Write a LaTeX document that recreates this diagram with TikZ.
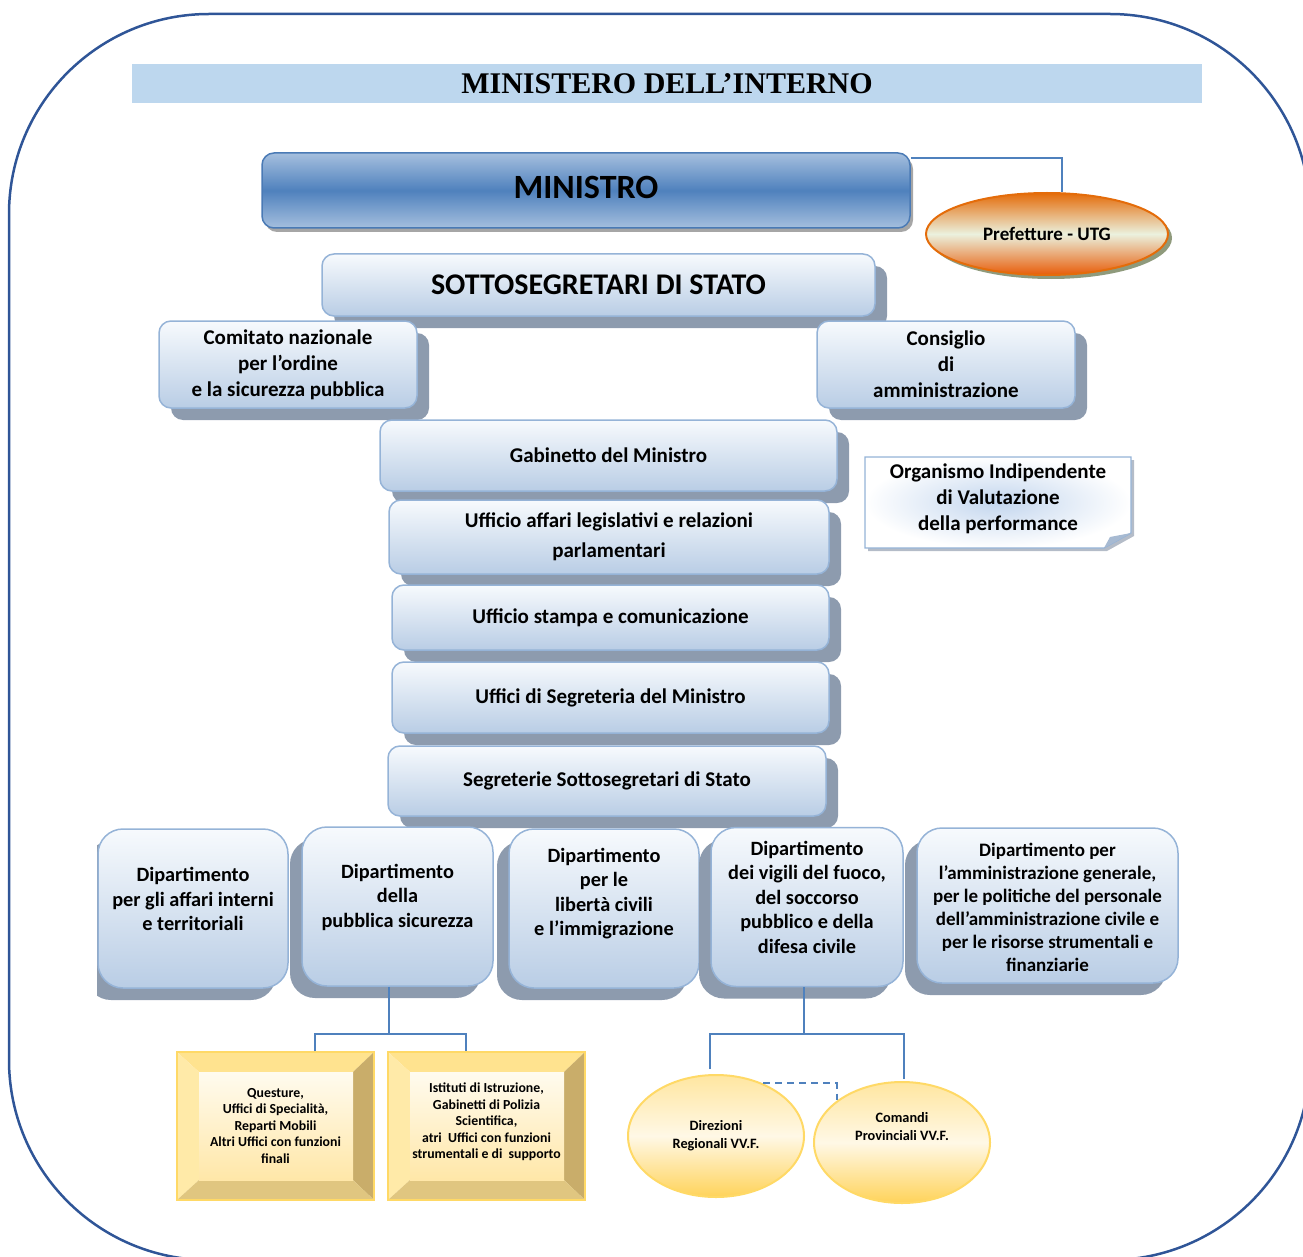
\documentclass[tikz,border=0pt]{standalone}
\usepackage{fontspec}
\setmainfont{Carlito}
\newfontfamily\timesf{Liberation Serif}
\usetikzlibrary{shadows,calc,shapes.geometric,backgrounds}
\definecolor{frameblue}{HTML}{2F5597}
\definecolor{bandblue}{HTML}{BDD7EE}
\definecolor{lineblue}{HTML}{4F81BD}
\definecolor{bordblue}{HTML}{95B3D7}
\definecolor{boxtop}{HTML}{F7FAFD}
\definecolor{boxbot}{HTML}{B9CDE5}
\definecolor{shgray}{HTML}{8D9BAE}
\definecolor{mintop}{HTML}{A5BFDE}
\definecolor{minmid}{HTML}{4F81BD}
\definecolor{minbord}{HTML}{4A7AB5}
\definecolor{orng}{HTML}{E46C0A}
\definecolor{cream}{HTML}{EBF1DE}
\definecolor{prefsh}{HTML}{8F9A7C}
\definecolor{gold}{HTML}{FFD966}
\definecolor{bevtop}{HTML}{FFE38F}
\definecolor{bevleft}{HTML}{FFEAA8}
\definecolor{bevright}{HTML}{C9AD6A}
\definecolor{bevbot}{HTML}{E0C680}
\definecolor{inntop}{HTML}{FFFBEF}
\definecolor{innbot}{HTML}{FFE7A8}
\definecolor{ellT}{HTML}{FFE6A0}
\definecolor{ellM}{HTML}{FFF8E6}
\definecolor{ellB}{HTML}{FFD35A}
\definecolor{notebl}{HTML}{C3D6EE}
\definecolor{notefold}{HTML}{A7BAD2}
\definecolor{notesh}{HTML}{B4BCC8}
\begin{document}
\begin{tikzpicture}[x=1pt,y=-1pt,
  boxbase/.style={draw=bordblue, line width=1.5pt, rounded corners=12pt,
    top color=boxtop, bottom color=boxbot, align=center, inner sep=0pt,
    font=\bfseries},
  shR/.style={drop shadow={shadow xshift=12pt, shadow yshift=-12pt, fill=shgray, opacity=1}},
  shL/.style={drop shadow={shadow xshift=-12pt, shadow yshift=-12pt, fill=shgray, opacity=1}},
  officebox/.style={boxbase, shR, font=\fontsize{21}{30}\selectfont\bfseries},
  sidebox/.style={boxbase, shR, minimum width=258pt, minimum height=87pt,
    font=\fontsize{21}{26}\selectfont\bfseries},
  dept/.style={boxbase, shL, rounded corners=25pt, minimum height=159pt},
  deptlbl/.style={align=center, font=\fontsize{20.3}{24.5}\selectfont\bfseries},
  conn/.style={draw=lineblue, line width=2.5pt},
  thinconn/.style={draw=lineblue, line width=1.5pt},
  bevbox/.style={minimum width=197pt, minimum height=148pt, inner sep=0pt,
    align=center, font=\fontsize{13.8}{16.5}\selectfont\bfseries,
    draw=gold, line width=1.5pt,
    path picture={
      \fill[bevtop] (path picture bounding box.north west) -- (path picture bounding box.north east)
        -- ([xshift=-21pt,yshift=-20pt]path picture bounding box.north east)
        -- ([xshift=22pt,yshift=-20pt]path picture bounding box.north west) -- cycle;
      \fill[bevleft] (path picture bounding box.north west) -- ([xshift=22pt,yshift=-20pt]path picture bounding box.north west)
        -- ([xshift=22pt,yshift=20pt]path picture bounding box.south west)
        -- (path picture bounding box.south west) -- cycle;
      \fill[bevright] (path picture bounding box.north east) -- ([xshift=-21pt,yshift=-20pt]path picture bounding box.north east)
        -- ([xshift=-21pt,yshift=20pt]path picture bounding box.south east)
        -- (path picture bounding box.south east) -- cycle;
      \fill[bevbot] (path picture bounding box.south west) -- ([xshift=22pt,yshift=20pt]path picture bounding box.south west)
        -- ([xshift=-21pt,yshift=20pt]path picture bounding box.south east)
        -- (path picture bounding box.south east) -- cycle;
      \shade[top color=inntop, bottom color=innbot]
        ([xshift=22pt,yshift=-20pt]path picture bounding box.north west)
        rectangle ([xshift=-21pt,yshift=20pt]path picture bounding box.south east);
    }},
  ellbox/.style={ellipse, draw=gold, line width=2pt, top color=ellT, bottom color=ellB,
    middle color=ellM, minimum width=176pt, minimum height=122pt, inner sep=0pt},
  elllbl/.style={align=center, font=\fontsize{14.3}{18}\selectfont\bfseries}
]
\useasboundingbox (0,0) rectangle (1303,1257);
\clip (0,0) rectangle (1303,1257);

% outer frame
\draw[frameblue, line width=2.5pt, rounded corners=200pt] (9,14) rectangle (1310,1260);

% title
\node[fill=bandblue, minimum width=1070pt, minimum height=39pt, inner sep=0pt,
  font=\timesf\bfseries\fontsize{30}{34}\selectfont] (title) at (667,83.5) {MINISTERO DELL’INTERNO};

% ministro
\node[draw=minbord, line width=1.5pt, rounded corners=12pt, top color=mintop, bottom color=mintop,
  middle color=minmid, minimum width=648pt, minimum height=75pt, inner sep=0pt,
  drop shadow={shadow xshift=3pt, shadow yshift=-4pt, fill=gray!70, opacity=1},
  label={[font=\fontsize{34}{38}\selectfont\bfseries, yshift=3pt]center:MINISTRO}] (min) at (586,190.5) {};

% prefetture
\node[ellipse, draw=orng, line width=2pt, top color=orng, bottom color=orng!85!red, middle color=cream,
  minimum width=242pt, minimum height=82pt, inner sep=0pt,
  drop shadow={shadow xshift=4pt, shadow yshift=-4pt, fill=prefsh, opacity=1},
  font=\fontsize{19}{22}\selectfont\bfseries] (pref) at (1047,234) {Prefetture - UTG};
\draw[thinconn] ([yshift=-6pt]min.north east) -| ([xshift=15pt]pref.north);

% sottosegretari
\node[boxbase, shR, minimum width=553pt, minimum height=62pt,
  font=\fontsize{30}{34}\selectfont\bfseries] (sotto) at (598.5,285) {SOTTOSEGRETARI DI STATO};

\node[sidebox] (comit) at (288,364.5) {Comitato nazionale\\per l’ordine\\e la sicurezza pubblica};
\node[sidebox] (consig) at (946,364.5) {Consiglio\\di\\amministrazione};

% offices
\node[officebox, minimum width=457pt, minimum height=71pt] (gab) at (608.5,455.5) {Gabinetto del Ministro};
\node[officebox, minimum width=440pt, minimum height=74pt] (leg) at (609,537) {Ufficio affari legislativi e relazioni\\parlamentari};
\node[officebox, minimum width=437pt, minimum height=65pt] (stampa) at (610.5,617.5) {Ufficio stampa e comunicazione};
\node[officebox, minimum width=437pt, minimum height=71pt] (segmin) at (610.5,697.5) {Uffici di Segreteria del Ministro};
\node[officebox, minimum width=438pt, minimum height=70pt] (segsot) at (607,781) {Segreterie Sottosegretari di Stato};

% organismo
\node[align=center, font=\fontsize{21}{26}\selectfont\bfseries] (org) at (998,498.5)
  {Organismo Indipendente\\di Valutazione\\della performance};
\begin{scope}[on background layer]
  \fill[notesh] (868,460) -- (1134,460) -- (1134,536) -- (1107,551) -- (868,551) -- cycle;
  \shade[inner color=notebl, outer color=white, draw=bordblue, line width=1.2pt]
    (865,457) -- (1131,457) -- (1131,533) -- (1104,548) -- (865,548) -- cycle;
  \fill[notefold] (1104,548) -- (1110,537) -- (1131,533) -- cycle;
\end{scope}

% departments
\begin{scope}
  \clip (97,800) rectangle (300,1020);
  \node[dept, minimum width=190pt, label={[deptlbl, yshift=9.5pt]center:{Dipartimento\\per gli affari interni\\e territoriali}}] (d1) at (193,908.5) {};
\end{scope}
\node[dept, minimum width=191pt, label={[deptlbl, yshift=9.5pt]center:{Dipartimento\\della\\pubblica sicurezza}}] (d2) at (397.5,906.5) {};
\node[dept, minimum width=190pt, label={[deptlbl, yshift=15pt]center:{Dipartimento\\per le\\libertà civili\\e l’immigrazione}}] (d3) at (604,908.5) {};
\node[dept, minimum width=192pt, label={[deptlbl, yshift=10pt]center:{Dipartimento\\dei vigili del fuoco,\\del soccorso\\pubblico e della\\difesa civile}}] (d4) at (807,907) {};
\node[dept, minimum width=261pt, minimum height=155pt, label={[align=center, font=\fontsize{19}{23}\selectfont\bfseries, yshift=-1.5pt]center:{Dipartimento per\\l’amministrazione generale,\\per le politiche del personale\\dell’amministrazione civile e\\per le risorse strumentali e\\finanziarie}}] (d5) at (1047.5,905.5) {};

% pubblica sicurezza offices
\node[bevbox] (quest) at (275.5,1126) {Questure,\\Uffici di Specialità,\\Reparti Mobili\\Altri Uffici con funzioni\\finali};
\node[bevbox, label={[align=center, font=\fontsize{13.8}{16.5}\selectfont\bfseries, yshift=4pt]center:{Istituti di Istruzione,\\Gabinetti di Polizia\\Scientifica,\\atri\ \ Uffici con funzioni\\strumentali e di\ \ supporto}}] (ist) at (486.5,1126) {};
\coordinate (j1) at (389,1034);
\draw[conn] (d2.south -| j1) -- (j1);
\draw[conn, line join=miter] ([xshift=39.5pt]quest.north) |- (j1) -| ([xshift=-20.5pt]ist.north);

% vigili del fuoco offices
\node[ellbox, label={[elllbl]center:{Direzioni\\Regionali VV.F.}}] (dir) at (716,1136) {};
\node[ellbox, minimum height=121pt, label={[elllbl, yshift=16pt]center:{Comandi\\Provinciali VV.F.}}] (com) at (902,1142.5) {};
\coordinate (j2) at (804,1034);
\draw[thinconn, line width=2pt] (d4.south -| j2) -- (j2);
\draw[thinconn, line width=2pt] ([xshift=-6pt,yshift=5pt]dir.north) |- (j2) -| ([xshift=2pt,yshift=2pt]com.north);
\draw[thinconn, line width=2pt, dash pattern=on 7pt off 5pt] (dir.48) -| (com.147);
\end{tikzpicture}
\end{document}
